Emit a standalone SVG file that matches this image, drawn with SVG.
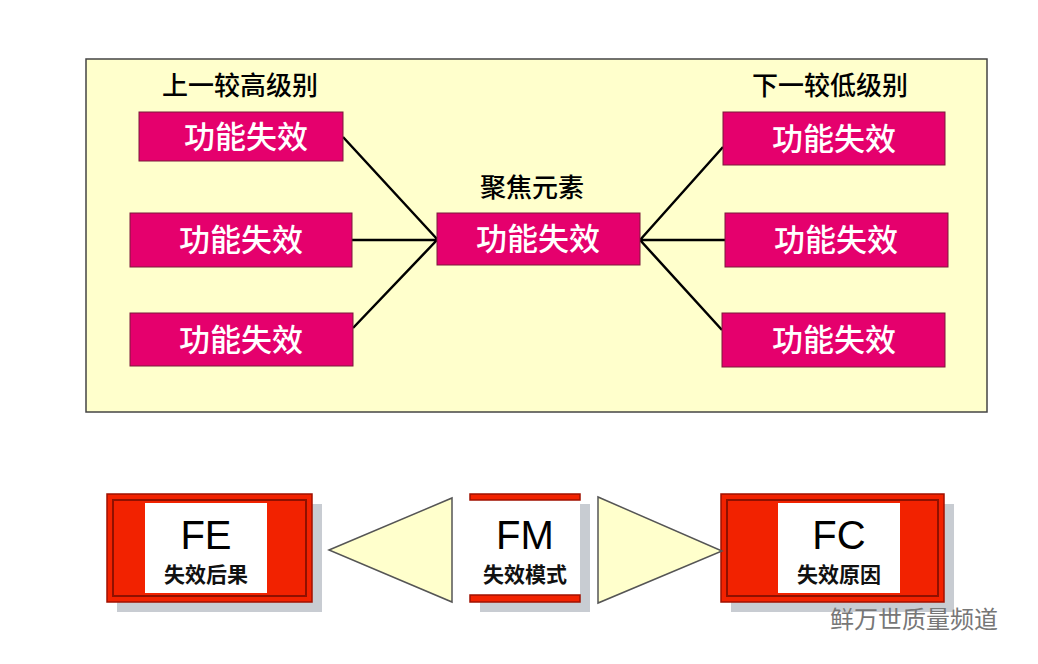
<svg xmlns="http://www.w3.org/2000/svg" width="1038" height="664" viewBox="0 0 1038 664">
<style>
.m{fill:#e5006d;stroke:#7a1a3a;stroke-width:1}
.mt{font-family:"Noto Sans CJK SC",sans-serif;font-size:31px;fill:#fff;text-anchor:middle;font-weight:500}
.h{font-family:"Noto Sans CJK SC",sans-serif;font-size:26px;fill:#000;text-anchor:middle;font-weight:500}
.c{stroke:#000;stroke-width:2.5;fill:none}
.red{fill:#f22200;stroke:#a01000;stroke-width:1.5}
.sh{fill:#c8ccd2}
.big{font-family:"Liberation Sans",Arial,sans-serif;font-size:40px;fill:#000;text-anchor:middle}
.sm{font-family:"Noto Sans CJK SC",sans-serif;font-size:21px;font-weight:bold;fill:#111;text-anchor:middle}
.tri{fill:#ffffcc;stroke:#555;stroke-width:1.5}
</style>
<rect width="1038" height="664" fill="#fff"/>
<rect x="86" y="59" width="901" height="353" fill="#ffffcc" stroke="#444" stroke-width="1.5"/>
<text class="h" x="240" y="95">上一较高级别</text>
<text class="h" x="830" y="95">下一较低级别</text>
<text class="h" x="532" y="197">聚焦元素</text>
<g id="connectors">
<path class="c" d="M343 137L437 239M352 240H437M353 328L437 240M640 240L723 147M640 240H725M640 240L722 330"/>
</g>
<g id="l1"><rect class="m" x="139" y="112" width="204" height="49"/><text class="mt" x="246" y="148">功能失效</text></g>
<g id="l2"><rect class="m" x="130" y="213" width="222" height="54"/><text class="mt" x="241" y="251">功能失效</text></g>
<g id="l3"><rect class="m" x="130" y="313" width="223" height="53"/><text class="mt" x="241" y="351">功能失效</text></g>
<g id="center"><rect class="m" x="437" y="213" width="203" height="52"/><text class="mt" x="538" y="250">功能失效</text></g>
<g id="r1"><rect class="m" x="723" y="112" width="222" height="53"/><text class="mt" x="834" y="150">功能失效</text></g>
<g id="r2"><rect class="m" x="725" y="213" width="223" height="54"/><text class="mt" x="836" y="251">功能失效</text></g>
<g id="r3"><rect class="m" x="722" y="313" width="223" height="54"/><text class="mt" x="834" y="351">功能失效</text></g>
<g id="fe">
<rect class="sh" x="117" y="504" width="205" height="108"/>
<rect class="red" x="107" y="494" width="205" height="108"/>
<rect x="113" y="500" width="193" height="96" fill="none" stroke="#901000" stroke-width="2"/>
<rect x="145" y="503" width="122" height="90" fill="#fff"/>
<text class="big" x="206" y="549">FE</text><text class="sm" x="206" y="582">失效后果</text>
</g>
<g id="fm">
<rect class="sh" x="480" y="504" width="110" height="108"/>
<rect x="470" y="494" width="110" height="108" fill="#fff"/>
<rect class="red" x="470" y="494" width="110" height="6"/>
<rect class="red" x="470" y="595" width="110" height="7"/>
<text class="big" x="525" y="549">FM</text><text class="sm" x="525" y="582">失效模式</text>
</g>
<g id="fc">
<rect class="sh" x="731" y="504" width="223" height="108"/>
<rect class="red" x="721" y="494" width="223" height="108"/>
<rect x="727" y="500" width="211" height="96" fill="none" stroke="#901000" stroke-width="2"/>
<rect x="778" y="503" width="122" height="90" fill="#fff"/>
<text class="big" x="839" y="549">FC</text><text class="sm" x="839" y="582">失效原因</text>
</g>
<g id="arrows">
<polygon class="tri" points="329,550 452,498 452,602"/>
<polygon class="tri" points="598,497 598,603 722,551"/>
</g>
<text x="830" y="628" font-family="Noto Sans CJK SC,sans-serif" font-size="24" fill="#777">鲜万世质量频道</text>
</svg>
